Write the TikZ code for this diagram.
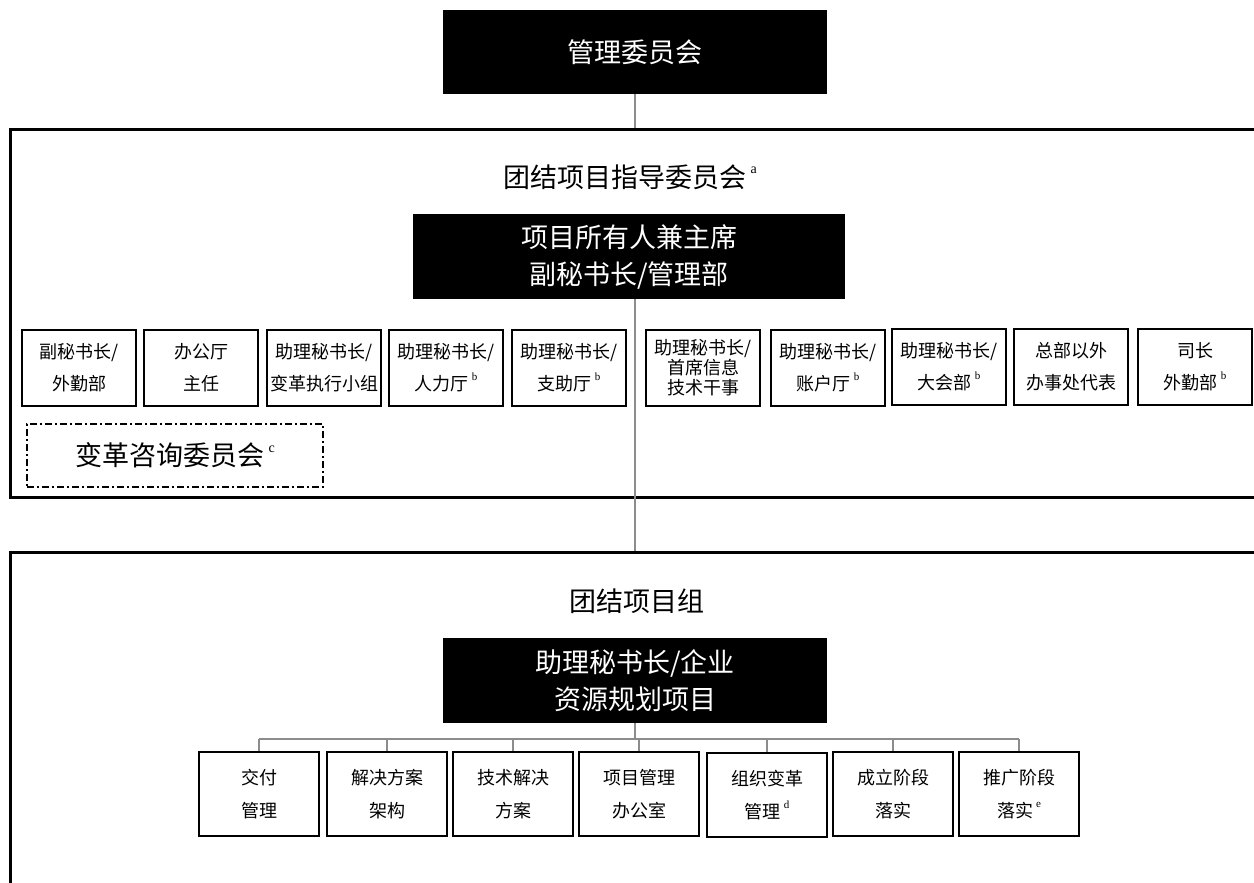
\documentclass[tikz,border=0pt]{standalone}
\usepackage{fontspec}
\setmainfont{Noto Sans CJK SC}
\newfontfamily\latf{Liberation Serif}
\newcommand\fnbig[1]{\,\raisebox{0.5em}{\latf\fontsize{14}{14}\selectfont #1}}
\newcommand\fnsm[1]{\,\raisebox{0.55em}{\latf\fontsize{11}{11}\selectfont #1}}
\begin{document}
\begin{tikzpicture}[x=1pt,y=-1pt,
  blk/.style={fill=black,text=white,inner sep=0pt,align=center,font=\fontsize{27}{37}\selectfont},
  sbox/.style={draw=black,line width=2pt,fill=white,minimum width=114pt,minimum height=76pt,inner sep=0pt,align=center,font=\fontsize{18}{32}\selectfont},
  bbox/.style={sbox,minimum width=120pt,minimum height=84pt,font=\fontsize{18}{33}\selectfont},
  grp/.style={draw=black,line width=3pt,inner sep=0pt},
  conn/.style={draw=black!45,line width=2pt},
  ttl/.style={font=\fontsize{27}{30}\selectfont,inner sep=0pt},
]
\useasboundingbox (0,0) rectangle (1254,883);
\clip (0,0) rectangle (1254,883);
\fill[white] (0,0) rectangle (1254,883);

% group frames
\node[grp,minimum width=1260pt,minimum height=368pt] (g1) at (640,313) {};
\node[grp,minimum width=1260pt,minimum height=348pt] (g2) at (640,726) {};

% black boxes
\node[blk,minimum width=384pt,minimum height=84pt] (top) at (635,52) {管理委员会};
\node[blk,minimum width=432pt,minimum height=85pt] (b2) at (629,256.5) {项目所有人兼主席\\副秘书长/管理部};
\node[blk,minimum width=384pt,minimum height=85pt] (b3) at (635,680.5) {助理秘书长/企业\\资源规划项目};

% titles
\node[ttl] (t1) at (630,177) {团结项目指导委员会\fnbig{a}};
\node[ttl] (t2) at (637,601) {团结项目组};

% row 1
\node[sbox] (s1) at (79,368) {副秘书长/\\外勤部};
\node[sbox] (s2) at (201,368) {办公厅\\主任};
\node[sbox] (s3) at (324,368) {助理秘书长/\\变革执行小组};
\node[sbox] (s4) at (446,368) {助理秘书长/\\人力厅\fnsm{b}};
\node[sbox] (s5) at (569,368) {助理秘书长/\\支助厅\fnsm{b}};
\node[sbox,font=\fontsize{18}{20}\selectfont] (s6) at (703,368) {助理秘书长/\\首席信息\\技术干事};
\node[sbox] (s7) at (828,368) {助理秘书长/\\账户厅\fnsm{b}};
\node[sbox] (s8) at (949,367) {助理秘书长/\\大会部\fnsm{b}};
\node[sbox] (s9) at (1071,367) {总部以外\\办事处代表};
\node[sbox] (s10) at (1195,367) {司长\\外勤部\fnsm{b}};

% advisory committee
\node[draw=black,line width=1.5pt,dash pattern=on 7pt off 3pt on 2pt off 3pt,
      minimum width=296pt,minimum height=63pt,inner sep=0pt,
      font=\fontsize{27}{30}\selectfont] (cac) at (175,455.5) {变革咨询委员会\fnbig{c}};

% row 2
\node[bbox] (r1) at (259,794) {交付\\管理};
\node[bbox] (r2) at (387,794) {解决方案\\架构};
\node[bbox] (r3) at (513,794) {技术解决\\方案};
\node[bbox] (r4) at (639,794) {项目管理\\办公室};
\node[bbox] (r5) at (767,795) {组织变革\\管理\fnsm{d}};
\node[bbox] (r6) at (893,794) {成立阶段\\落实};
\node[bbox] (r7) at (1019,794) {推广阶段\\落实\fnsm{e}};

% connectors
\draw[conn] (top.south) -- (top.south |- g1.north);
\coordinate (b2s) at (b2.south -| top.south);
\draw[conn] (b2s) -- (b2s |- g2.north);
\path (b3.south) ++(0,16) coordinate (bj);
\draw[conn] (b3.south) -- (bj);
\draw[conn] (r1.north |- bj) -- (r7.north |- bj);
\foreach \i in {1,...,7} \draw[conn] (r\i.north |- bj) -- (r\i.north);
\end{tikzpicture}
\end{document}
